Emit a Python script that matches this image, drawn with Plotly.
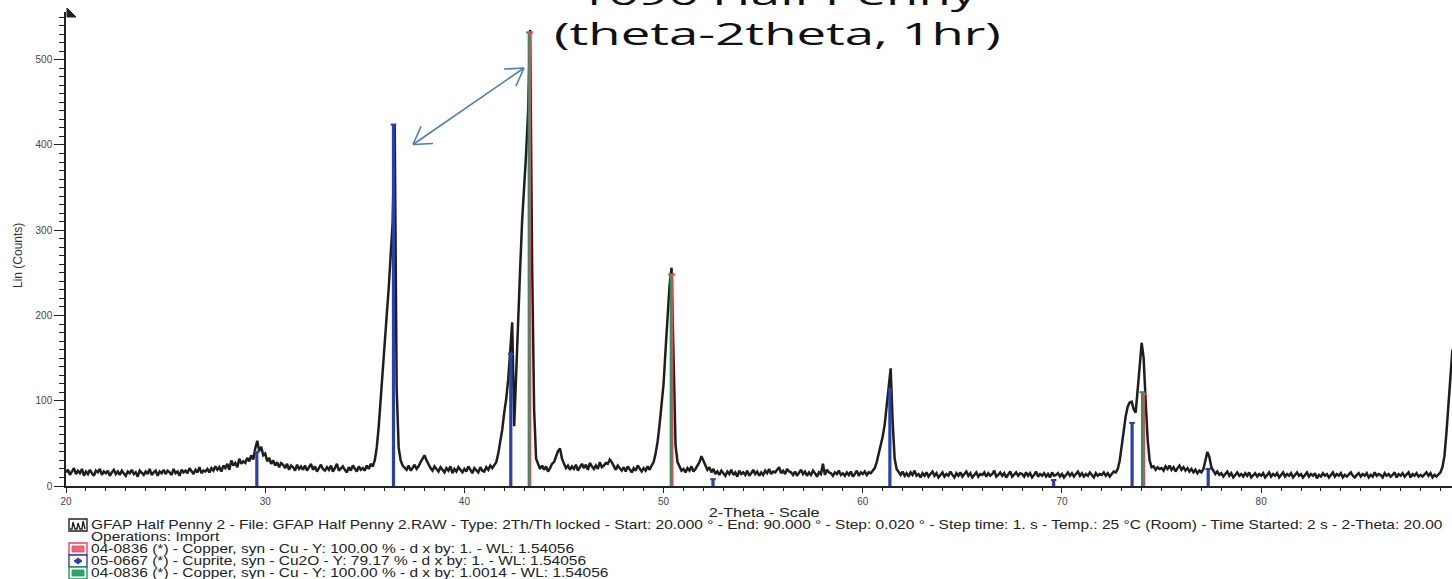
import numpy as np
import plotly.graph_objects as go

# ---- measured diffractogram (Cu K-alpha, theta-2theta scan) ----
two_theta_start = 20.0
two_theta_step = 0.1
counts = [
    16, 19, 13, 17, 21, 14, 18, 15, 20, 12,   # 20
    17, 14, 19, 15, 12, 18, 16, 20, 13, 17,   # 21
    15, 18, 12, 16, 19, 14, 17, 13, 18, 15,   # 22
    12, 17, 15, 19, 14, 16, 11, 18, 15, 13,   # 23
    17, 14, 20, 13, 16, 18, 12, 17, 15, 19,   # 24
    14, 18, 16, 13, 20, 15, 17, 12, 19, 16,   # 25
    18, 15, 21, 17, 14, 19, 16, 22, 15, 18,   # 26
    17, 20, 16, 21, 18, 23, 19, 22, 17, 24,   # 27
    21, 26, 19, 30, 24, 27, 22, 32, 26, 29,   # 28
    27, 33, 29, 36, 31, 44, 53, 41, 46, 36,   # 29
    38, 29, 33, 26, 30, 24, 28, 22, 27, 25,   # 30
    21, 26, 19, 24, 22, 18, 25, 20, 23, 19,   # 31
    24, 18, 22, 26, 19, 23, 17, 21, 25, 20,   # 32
    18, 22, 19, 24, 17, 21, 26, 18, 20, 23,   # 33
    19, 16, 22, 18, 24, 20, 17, 23, 19, 21,   # 34
    18, 24, 20, 26, 23, 30, 45, 70, 100, 130,  # 35
    170, 200, 232, 268, 310, 424, 115, 45, 30, 24,  # 36
    22, 19, 24, 18, 21, 25, 20, 23, 28, 33,   # 37
    36, 30, 25, 21, 18, 23, 20, 17, 22, 19,   # 38
    16, 21, 18, 23, 15, 20, 17, 22, 19, 16,   # 39
    20, 17, 23, 18, 15, 21, 19, 16, 22, 18,   # 40
    17, 22, 19, 24, 21, 25, 28, 38, 50, 66,   # 41
    86, 102, 125, 155, 192, 70, 140, 200, 255, 312,  # 42
    350, 390, 441, 535, 260, 90, 32, 25, 20, 24,     # 43
    19, 23, 17, 21, 26, 28, 34, 41, 44, 32,   # 44
    26, 21, 24, 19, 23, 20, 25, 18, 22, 26,   # 45
    21, 25, 19, 27, 23, 20, 24, 20, 28, 22,   # 46
    24, 27, 26, 31, 28, 23, 19, 24, 21, 18,   # 47
    22, 17, 23, 19, 16, 21, 18, 24, 20, 17,   # 48
    21, 18, 23, 19, 24, 28, 38, 52, 72, 95,   # 49
    120, 160, 200, 235, 256, 130, 48, 28, 22, 18,  # 50
    20, 16, 21, 18, 23, 17, 20, 24, 28, 35,   # 51
    30, 25, 19, 22, 16, 20, 14, 17, 13, 18,   # 52
    15, 12, 17, 14, 19, 13, 16, 11, 18, 14,   # 53
    16, 13, 18, 12, 15, 19, 14, 17, 12, 16,   # 54
    13, 18, 15, 20, 14, 17, 16, 19, 22, 15,   # 55
    18, 14, 20, 17, 16, 13, 17, 12, 15, 19,   # 56
    14, 17, 12, 16, 13, 18, 15, 11, 16, 14,   # 57
    26, 13, 19, 16, 15, 12, 16, 14, 18, 13,   # 58
    15, 12, 16, 13, 17, 11, 14, 18, 12, 16,   # 59
    14, 17, 13, 16, 15, 18, 21, 28, 38, 48,   # 60
    58, 72, 92, 115, 138, 75, 32, 20, 16, 13,  # 61
    17, 12, 15, 11, 16, 13, 18, 12, 14, 10,   # 62
    15, 12, 16, 11, 14, 17, 12, 15, 10, 13,   # 63
    16, 11, 14, 12, 17, 13, 10, 15, 12, 16,   # 64
    11, 14, 17, 12, 15, 10, 13, 16, 11, 14,   # 65
    13, 16, 11, 15, 12, 14, 18, 11, 13, 16,   # 66
    12, 15, 10, 14, 17, 11, 13, 16, 12, 15,   # 67
    14, 11, 16, 12, 15, 10, 13, 17, 11, 14,   # 68
    12, 15, 11, 14, 10, 16, 12, 13, 15, 11,   # 69
    14, 10, 13, 16, 12, 15, 11, 14, 17, 12,   # 70
    15, 11, 14, 12, 16, 13, 10, 15, 12, 14,   # 71
    13, 16, 12, 15, 11, 14, 17, 16, 20, 30,   # 72
    48, 66, 82, 93, 98, 99, 90, 86, 110, 140,  # 73
    168, 150, 100, 55, 30, 22, 23, 19, 22, 20,  # 74
    21, 18, 23, 20, 24, 19, 22, 17, 21, 24,   # 75
    19, 22, 18, 21, 17, 20, 16, 19, 15, 18,   # 76
    16, 20, 30, 40, 34, 22, 18, 14, 17, 13,   # 77
    15, 11, 14, 17, 12, 15, 10, 13, 16, 12,   # 78
    14, 11, 15, 12, 16, 10, 13, 15, 11, 14,   # 79
    12, 15, 10, 13, 16, 11, 14, 12, 15, 10,   # 80
    13, 16, 11, 14, 12, 15, 10, 13, 16, 12,   # 81
    14, 10, 13, 16, 11, 14, 12, 15, 9, 13,    # 82
    11, 15, 12, 14, 10, 13, 16, 11, 14, 12,   # 83
    15, 10, 13, 11, 14, 16, 12, 10, 13, 15,   # 84
    11, 14, 12, 15, 10, 13, 11, 16, 12, 14,   # 85
    13, 10, 15, 12, 14, 11, 13, 16, 10, 14,   # 86
    12, 15, 11, 13, 16, 10, 14, 12, 15, 11,   # 87
    13, 11, 14, 16, 12, 15, 10, 13, 11, 14,   # 88
    16, 22, 35, 62, 95, 128, 160,             # 89
]
two_theta = two_theta_start + two_theta_step * np.arange(len(counts))

# ---- reference patterns (stick positions in 2-theta, heights in counts) ----
copper_pos = [43.30, 50.44, 74.12]          # 04-0836 Copper, d x by 1
copper_int = [532, 248, 108]
copper_shift_pos = [43.24, 50.37, 74.03]    # 04-0836 Copper, d x by 1.0014
copper_shift_int = [532, 248, 110]
cuprite_pos = [29.58, 36.44, 42.33, 52.48, 61.36, 69.58, 73.52, 77.34]  # 05-0667 Cu2O
cuprite_int = [40, 424, 155, 8, 113, 7, 74, 20]

x_ticks = [20, 30, 40, 50, 60, 70, 80]
y_ticks = [0, 100, 200, 300, 400, 500]

title_text = "1696 Half Penny<br>(theta-2theta, 1hr)"
legend_lines = [
    "GFAP Half Penny 2 - File: GFAP Half Penny 2.RAW - Type: 2Th/Th locked - Start: 20.000 ° - End: 90.000 ° - Step: 0.020 ° - Step time: 1. s - Temp.: 25 °C (Room) - Time Started: 2 s - 2-Theta: 20.00",
    "Operations: Import",
    "04-0836 (*) - Copper, syn - Cu - Y: 100.00 % - d x by: 1. - WL: 1.54056",
    "05-0667 (*) - Cuprite, syn - Cu2O - Y: 79.17 % - d x by: 1. - WL: 1.54056",
    "04-0836 (*) - Copper, syn - Cu - Y: 100.00 % - d x by: 1.0014 - WL: 1.54056",
]

RED, BLUE, GREEN = "#e8415a", "#2b3fae", "#1f9a5c"
ARROW = "#4a7cc0"
FONT = "Liberation Sans, Arial, sans-serif"

# figure geometry (pixels)
W, H = 1452, 579
ML, MR, MT, MB = 66, 0, 12, 93
PW, PH = W - ML - MR, H - MT - MB


def px(xp):
    return (xp - ML) / PW


def py(yp):
    return (H - MB - yp) / PH


def sticks(pos, heights):
    xs, ys = [], []
    for p, h in zip(pos, heights):
        xs += [p, p, None]
        ys += [0, h, None]
    return xs, ys


fig = go.Figure()
fig.add_trace(go.Scatter(x=two_theta, y=counts, mode="lines",
                         line=dict(color="#1e1e1e", width=2.5), showlegend=False,
                         hoverinfo="skip"))

for pos, hts, col, w in [(cuprite_pos, cuprite_int, BLUE, 3.2),
                         (copper_shift_pos, copper_shift_int, GREEN, 2.6),
                         (copper_pos, copper_int, RED, 2.2)]:
    sx, sy = sticks(pos, hts)
    fig.add_trace(go.Scatter(x=sx, y=sy, mode="lines", line=dict(color=col, width=w),
                             showlegend=False, hoverinfo="skip"))
    fig.add_trace(go.Scatter(x=pos, y=hts, mode="markers",
                             marker=dict(symbol="line-ew", size=4, line=dict(color=col, width=2)),
                             showlegend=False, hoverinfo="skip"))

axis_common = dict(showline=True, linecolor="#222", linewidth=1.5, ticks="outside",
                   tickcolor="#222", tickwidth=1.2, showgrid=False, zeroline=False,
                   tickfont=dict(family=FONT, size=10, color="#444"))

fig.update_layout(
    width=W, height=H,
    margin=dict(l=ML, r=MR, t=MT, b=MB, pad=0),
    paper_bgcolor="white", plot_bgcolor="white",
    xaxis=dict(range=[20, 89.58], tickvals=x_ticks, ticklen=5,
               minor=dict(ticks="outside", dtick=1, tick0=20, ticklen=3, tickcolor="#222"),
               **axis_common),
    yaxis=dict(range=[0, 556], tickvals=y_ticks, ticklen=10,
               minor=dict(ticks="outside", dtick=10, ticklen=5, tickcolor="#222"),
               **axis_common),
)

annotations = [
    dict(text=title_text, xref="paper", yref="paper", x=px(777), y=py(56),
         xanchor="center", yanchor="bottom", showarrow=False, align="center",
         font=dict(family="Open Sans, sans-serif", size=31, color="#111")),
    dict(text="2-Theta - Scale", xref="paper", yref="paper", x=px(764), y=py(512),
         xanchor="center", yanchor="middle", showarrow=False,
         font=dict(family=FONT, size=13.5, color="#222")),
    dict(text="Lin (Counts)", xref="paper", yref="paper", x=px(18), y=py(256),
         xanchor="center", yanchor="middle", showarrow=False, textangle=-90,
         font=dict(family=FONT, size=12, color="#333")),
]
line_y = [525, 537, 549, 561, 573]
for txt, ly in zip(legend_lines, line_y):
    annotations.append(dict(text=txt, xref="paper", yref="paper", x=px(89), y=py(ly),
                            xanchor="left", yanchor="middle", showarrow=False,
                            font=dict(family=FONT, size=12.5, color="#222")))
fig.update_layout(annotations=annotations)

shapes = []


def seg(x0, y0, x1, y1, color, width):
    shapes.append(dict(type="line", xref="paper", yref="paper",
                       x0=px(x0), y0=py(y0), x1=px(x1), y1=py(y1),
                       line=dict(color=color, width=width)))


# double-headed arrow linking the two strongest reflections
a0, a1 = np.array([413.0, 144.5]), np.array([524.0, 68.0])
seg(*a0, *a1, ARROW, 1.6)
d = (a1 - a0) / np.linalg.norm(a1 - a0)
for tip, direction in [(a0, d), (a1, -d)]:
    for ang in (0.55, -0.55):
        c, s = np.cos(ang), np.sin(ang)
        r = np.array([c * direction[0] - s * direction[1], s * direction[0] + c * direction[1]])
        end = tip + 20 * r
        seg(tip[0], tip[1], end[0], end[1], ARROW, 1.6)

# arrow cap at the top of the intensity axis
shapes.append(dict(type="path", xref="paper", yref="paper",
                   path=f"M {px(67)} {py(8)} L {px(76)} {py(17)} L {px(67)} {py(17)} Z",
                   fillcolor="#222", line=dict(color="#222", width=1)))


def box(x0, y0, x1, y1, line_col, fill_col, lw=1.4):
    shapes.append(dict(type="rect", xref="paper", yref="paper",
                       x0=px(x0), y0=py(y1), x1=px(x1), y1=py(y0),
                       line=dict(color=line_col, width=lw), fillcolor=fill_col))


# legend swatches
box(69, 519, 87, 531, "#222", "white")
wave = [(70, 529), (72, 529), (73, 522), (75, 529), (77, 529), (78, 523), (80, 529), (82, 529), (83, 521), (85, 529)]
shapes.append(dict(type="path", xref="paper", yref="paper",
                   path="M " + " L ".join(f"{px(a)} {py(b)}" for a, b in wave),
                   line=dict(color="#222", width=1.4)))
box(69, 543, 87, 555, RED, "white")
box(72, 546, 84, 552, RED, "#f0667a", 0.8)
box(69, 555, 87, 567, BLUE, "white")
shapes.append(dict(type="path", xref="paper", yref="paper",
                   path=f"M {px(74)} {py(561)} L {px(78)} {py(558)} L {px(82)} {py(561)} L {px(78)} {py(564)} Z",
                   fillcolor=BLUE, line=dict(color=BLUE, width=1)))
box(69, 567, 87, 579, GREEN, "white")
box(72, 570, 84, 576, GREEN, "#2fa56a", 0.8)
fig.update_layout(shapes=shapes)

# horizontal widening of selected annotation texts: index -> (origin, factor)
widen = {0: ("center", 1.7), 1: ("center", 1.2)}
for i in range(len(legend_lines)):
    widen[3 + i] = ("left center", 1.24)
widen_js = ",".join(f"[{k},'{o}',{f}]" for k, (o, f) in widen.items())

post_js = (
    "var gd=document.getElementById('{plot_id}');"
    "var widen=[" + widen_js + "];"
    "function widenText(){widen.forEach(function(w){"
    "var t=gd.querySelector('.annotation[data-index=\"'+w[0]+'\"] .annotation-text');"
    "if(t){t.style.transformBox='fill-box';t.style.transformOrigin=w[1];"
    "t.style.transform='scaleX('+w[2]+')';}});}"
    "widenText();gd.on('plotly_afterplot',widenText);"
)

fig.write_html("out.html", post_script=post_js)
